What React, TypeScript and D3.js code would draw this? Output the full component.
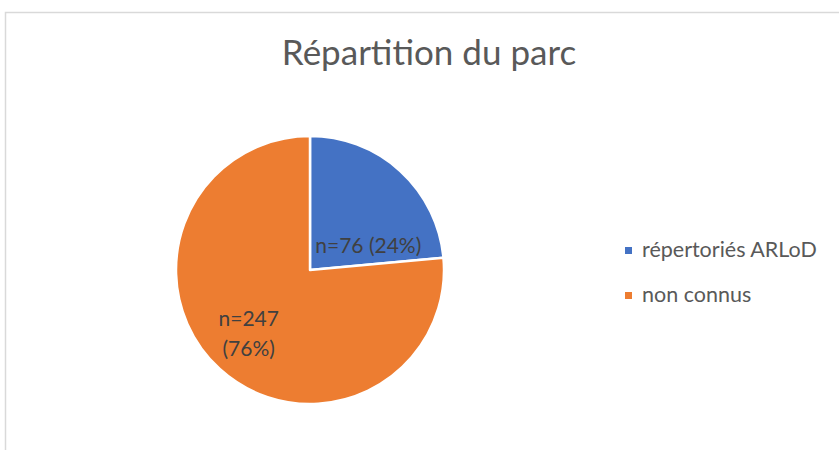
import React, { useEffect, useRef } from "react";
import * as d3 from "d3";

const categories = ["répertoriés ARLoD", "non connus"];
const counts = [76, 247];
const percents = ["24%", "76%"];
const colors = ["#4472C4", "#ED7D31"];
const title = "Répartition du parc";

export default function App() {
  const ref = useRef<SVGSVGElement>(null);

  useEffect(() => {
    document.body.style.margin = "0";
    const svg = d3.select(ref.current);
    svg.selectAll("*").remove();
    const W = 839, H = 450;
    const font = "Lato, 'Open Sans', sans-serif";

    svg.append("rect").attr("width", W).attr("height", H).attr("fill", "#fff");
    // chart border (continues past the viewport on right/bottom)
    svg.append("rect")
      .attr("x", 5.5).attr("y", 12.5)
      .attr("width", W + 20).attr("height", H + 20)
      .attr("fill", "none").attr("stroke", "#d9d9d9").attr("stroke-width", 1.5);

    svg.append("text")
      .attr("x", 429).attr("y", 65)
      .attr("text-anchor", "middle")
      .attr("font-family", font).attr("font-size", 35)
      .attr("fill", "#595959")
      .text(title);

    const cx = 310, cy = 270, R = 134;
    const pie = d3.pie<number>().sort(null).value(d => d);
    const arcs = pie(counts);
    const arc = d3.arc<d3.PieArcDatum<number>>().innerRadius(0).outerRadius(R);
    const labelArc = d3.arc<d3.PieArcDatum<number>>().innerRadius(88).outerRadius(88);

    const g = svg.append("g").attr("transform", `translate(${cx},${cy})`);
    g.selectAll("path").data(arcs).enter().append("path")
      .attr("d", arc)
      .attr("fill", (_, i) => colors[i])
      .attr("stroke", "#fff").attr("stroke-width", 2.5).attr("stroke-linejoin", "round");

    arcs.forEach((a, i) => {
      let [x, y] = labelArc.centroid(a);
      const t = g.append("text")
        .attr("text-anchor", "middle")
        .attr("font-family", font).attr("font-size", 21)
        .attr("fill", "#404040");
      if (i === 0) {
        // label too wide for the slice: kept on one line, pulled toward centre
        x = x - 1; y = y + 48;
        t.attr("x", x).attr("y", y).text(`n=${counts[i]} (${percents[i]})`);
      } else {
        t.append("tspan").attr("x", x - 2).attr("y", y - 9).text(`n=${counts[i]}`);
        t.append("tspan").attr("x", x - 2).attr("y", y + 21).text(`(${percents[i]})`);
      }
    });

    const lg = svg.append("g").attr("transform", "translate(625,0)");
    categories.forEach((c, i) => {
      const y = 250.5 + i * 45;
      lg.append("rect").attr("x", 0).attr("y", y - 3.5).attr("width", 7).attr("height", 7).attr("fill", colors[i]);
      lg.append("text").attr("x", 17).attr("y", y + 6.5)
        .attr("font-family", font).attr("font-size", 21.5).attr("fill", "#595959")
        .text(c);
    });
  }, []);

  return <svg ref={ref} width={839} height={450} style={{ display: "block" }} />;
}
